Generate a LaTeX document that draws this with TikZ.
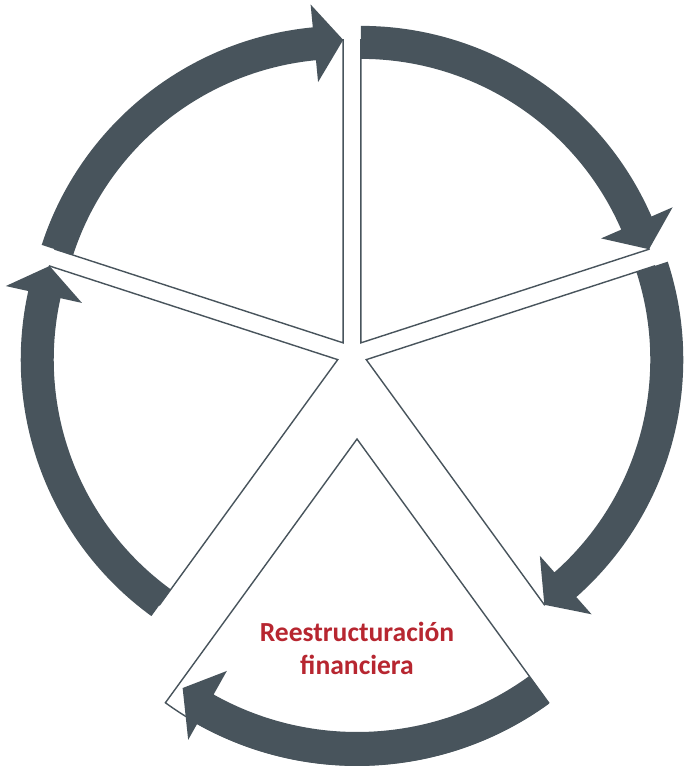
\documentclass[tikz,border=0pt]{standalone}
\usepackage{fontspec}
\setmainfont{Carlito}
\usetikzlibrary{calc}
\definecolor{slate}{RGB}{72,84,92}
\definecolor{wine}{RGB}{183,38,48}
\tikzset{wedge/.style={draw=slate, line width=.8pt, fill=white}}
\tikzset{band/.style={fill=slate}}
% one ring segment with its head: apex, start angle, end angle
\newcommand{\cyclearrow}[3]{%
  \fill[band, shift={(#1)}] (#2:317) arc[start angle=#2, end angle={#3+5.5}, radius=317]
    -- ({#3+5.5}:340) -- (#3:303) -- ({#3+5.5}:262) -- ({#3+5.5}:284)
    arc[start angle={#3+5.5}, end angle=#2, radius=284] -- cycle;}

\begin{document}
\begin{tikzpicture}[x=.02cm, y=.02cm]
  \useasboundingbox (0,0) rectangle (685,-767);

  \coordinate(C) at (352,-355);
  \coordinate(TL) at ($(C)+(126:15)$);
  \coordinate(TR) at ($(C)+(54:15)$);
  \coordinate(RR) at ($(C)+(-18:15)$);
  \coordinate(LL) at ($(C)+(198:15)$);
  \coordinate(BB) at (357,-439);

  % wedges
  \draw[wedge] (TL) -- ++(162:303) arc[start angle=162, end angle=90, radius=303] -- cycle;
  \draw[wedge] (TR) -- ++(90:303) arc[start angle=90, end angle=18, radius=303] -- cycle;
  \draw[wedge] (RR) -- ++(18:303) arc[start angle=18, end angle=-54, radius=303] -- cycle;
  \draw[wedge] (LL) -- ++(234:303) arc[start angle=234, end angle=162, radius=303] -- cycle;
  \draw[wedge] (BB) -- ++(-54:326) arc[start angle=-54, end angle=-126, radius=326] -- cycle;

  % arrows
  \cyclearrow{TL}{162}{90}
  \cyclearrow{TR}{90}{18}
  \cyclearrow{RR}{18}{-54}
  \cyclearrow{LL}{234}{162}
  \fill[band, shift={(BB)}] (-54:327) arc[start angle=-54, end angle=-119.3, radius=327]
    -- (-119.3:345) -- (-125:304) -- (-119.3:266) -- (-119.3:293)
    arc[start angle=-119.3, end angle=-54, radius=293] -- cycle;

  \node[text=wine, font=\fontsize{15.7}{18.8}\selectfont\bfseries, align=center]
    (fin) at (357,-648) {Reestructuración\\financiera};

\end{tikzpicture}
\end{document}
